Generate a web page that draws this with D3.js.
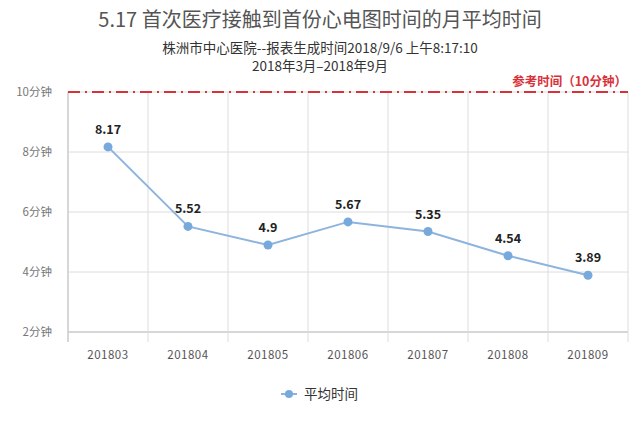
<!DOCTYPE html>
<html><head><meta charset="utf-8">
<script src="https://cdn.jsdelivr.net/npm/d3@7"></script>
<style>body{margin:0;background:#fff;}svg{display:block;font-family:"Noto Sans CJK SC","Noto Sans",sans-serif;}</style>
</head><body>
<script>
const categories = ["201803","201804","201805","201806","201807","201808","201809"];
const values = [8.17,5.52,4.9,5.67,5.35,4.54,3.89];
const yTicks = [2,4,6,8,10];
const refValue = 10;
const seriesName = "平均时间";
const title = "5.17 首次医疗接触到首份心电图时间的月平均时间";
const subtitle1 = "株洲市中心医院--报表生成时间2018/9/6 上午8:17:10";
const subtitle2 = "2018年3月–2018年9月";
const refLabel = "参考时间（10分钟）";

(function(){
const W = 640, H = 427;
const svg = d3.select("body").append("svg").attr("width", W).attr("height", H);
const pL = 68, pR = 628, pT = 92, pB = 332;
const x = d3.scaleBand().domain(categories).range([pL, pR]);
const y = d3.scaleLinear().domain([2, 10]).range([pB, pT]);

svg.append("text").attr("x", 320).attr("y", 27).attr("text-anchor", "middle")
  .attr("font-size", 20).attr("fill", "#555").text(title);
svg.append("text").attr("x", 320).attr("y", 53).attr("text-anchor", "middle")
  .attr("font-size", 13.5).attr("fill", "#333").text(subtitle1);
svg.append("text").attr("x", 320).attr("y", 71).attr("text-anchor", "middle")
  .attr("font-size", 13.5).attr("fill", "#333").text(subtitle2);

svg.append("g").selectAll("line").data(yTicks).join("line")
  .attr("x1", pL).attr("x2", pR).attr("y1", d => y(d)).attr("y2", d => y(d))
  .attr("stroke", d => d === 2 ? "#c8c8c8" : "#dcdcdc").attr("stroke-width", d => d === 2 ? 1.5 : 1);
const bounds = categories.map(c => x(c)).concat([pR]);
svg.append("g").selectAll("line").data(bounds).join("line")
  .attr("x1", d => d).attr("x2", d => d).attr("y1", pT).attr("y2", pB + 10)
  .attr("stroke", "#dcdcdc").attr("stroke-width", 1);
svg.append("line").attr("x1", pL).attr("x2", pL).attr("y1", pT).attr("y2", pB + 10)
  .attr("stroke", "#c8c8c8").attr("stroke-width", 1.2);

svg.append("g").selectAll("text").data(yTicks).join("text")
  .attr("x", 52).attr("y", d => y(d) + 4).attr("text-anchor", "end")
  .attr("font-size", 11.5).attr("fill", "#777").text(d => d + "分钟");
svg.append("g").selectAll("text").data(categories).join("text")
  .attr("x", d => x(d) + x.bandwidth() / 2).attr("y", 359).attr("text-anchor", "middle")
  .attr("font-size", 11.5).attr("fill", "#555").attr("letter-spacing", 0.5).text(d => d);

svg.append("line").attr("x1", pL).attr("x2", pR).attr("y1", y(refValue)).attr("y2", y(refValue))
  .attr("stroke", "#d9313a").attr("stroke-width", 2).attr("stroke-dasharray", "12,5,2,5");
svg.append("text").attr("x", 627).attr("y", 86).attr("text-anchor", "end")
  .attr("font-size", 12.5).attr("font-weight", "bold").attr("fill", "#d9313a").text(refLabel);

const cx = i => x(categories[i]) + x.bandwidth() / 2;
const line = d3.line().x((d, i) => cx(i)).y(d => y(d));
svg.append("path").datum(values).attr("d", line).attr("fill", "none")
  .attr("stroke", "#8db4de").attr("stroke-width", 2);
svg.append("g").selectAll("circle").data(values).join("circle")
  .attr("cx", (d, i) => cx(i)).attr("cy", d => y(d)).attr("r", 4.5)
  .attr("fill", "#78a9dd");
svg.append("g").selectAll("text").data(values).join("text")
  .attr("x", (d, i) => cx(i)).attr("y", d => y(d) - 13).attr("text-anchor", "middle")
  .attr("font-size", 12.5).attr("font-weight", "bold").attr("fill", "#222").text(d => d);

svg.append("line").attr("x1", 281).attr("x2", 297).attr("y1", 394).attr("y2", 394)
  .attr("stroke", "#8db4de").attr("stroke-width", 2);
svg.append("circle").attr("cx", 289).attr("cy", 394).attr("r", 4).attr("fill", "#78a9dd");
svg.append("text").attr("x", 304).attr("y", 399).attr("font-size", 13.5).attr("fill", "#333").text(seriesName);
})();
</script>
</body></html>
